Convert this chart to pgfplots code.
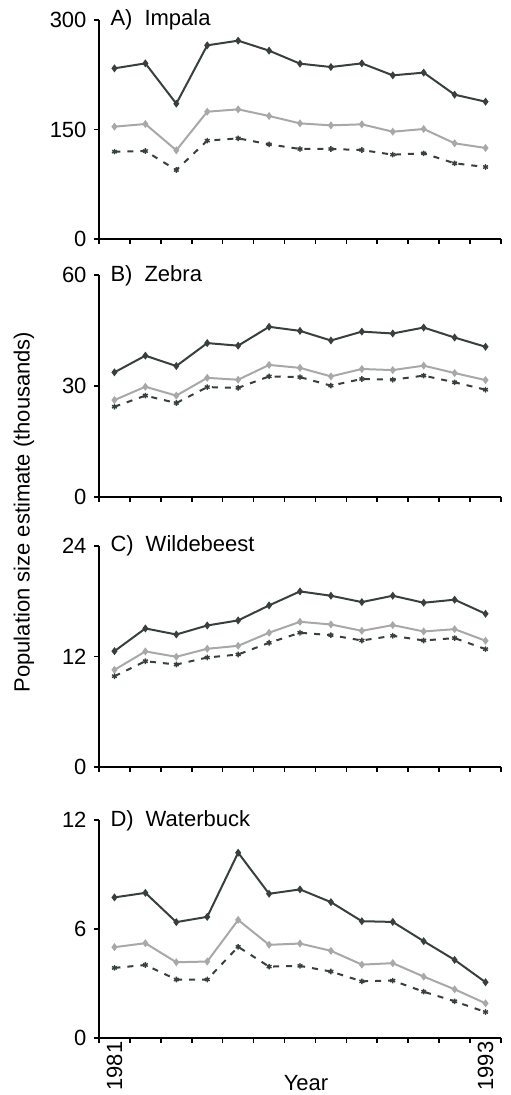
\documentclass[border=0pt]{standalone}
\usepackage{fontspec}
\setmainfont{Liberation Sans}
\usepackage{pgfplots}
\pgfplotsset{compat=1.18}
\definecolor{dk}{RGB}{55,64,60}
\definecolor{lt}{RGB}{168,168,168}
\newcommand{\bigf}{\fontsize{22}{26}\selectfont}
\pgfplotsset{
 panel/.style={
  scale only axis, width=402pt, height=219pt, anchor=south west,
  axis lines=left, axis line style={line width=1.8pt,-},
  xmin=1980.5, xmax=1993.5, ymin=0,
  xtick={1980.5,1981.5,...,1993.5}, xticklabels={},
  tick align=outside, major tick length=5pt,
  every tick/.style={line width=1.6pt, black},
  tick label style={font=\bigf},
  yticklabel style={xshift=-4pt},
  /pgf/number format/assume math mode=true,
  clip=false,
 },
 dkline/.style={dk, line width=2pt, mark=diamond*, mark size=2.4pt},
 ltline/.style={lt, line width=2pt, mark=diamond*, mark size=2.4pt},
 dsline/.style={dk, line width=2pt, dash pattern=on 6pt off 7pt, mark=asterisk, mark size=2.8pt, mark options={solid, line width=1.4pt}},
}
\begin{document}
\begin{tikzpicture}[x=1pt,y=1pt]
\path[use as bounding box] (0,0) rectangle (511,-1095);
% A) Impala
\begin{axis}[panel, at={(99pt,-239pt)}, ymax=300, ytick={0,150,300}]
\addplot[dkline] coordinates {(1981,233.8)(1982,240.6)(1983,185.4)(1984,265.3)(1985,271.7)(1986,258.0)(1987,240.2)(1988,235.6)(1989,240.6)(1990,224.2)(1991,227.9)(1992,197.7)(1993,188.1)};
\addplot[ltline] coordinates {(1981,153.9)(1982,157.5)(1983,121.5)(1984,174.4)(1985,177.6)(1986,168.5)(1987,158.4)(1988,155.7)(1989,157.1)(1990,147.0)(1991,150.7)(1992,131.1)(1993,124.7)};
\addplot[dsline] coordinates {(1981,119.6)(1982,120.5)(1983,94.5)(1984,134.7)(1985,137.9)(1986,129.7)(1987,123.3)(1988,123.3)(1989,121.9)(1990,115.5)(1991,117.4)(1992,103.7)(1993,98.6)};
\node[anchor=base west, xshift=8pt, yshift=-5pt, font=\bigf] at (rel axis cs:0,1) {A)\hspace{12pt}Impala};
\end{axis}
% B) Zebra
\begin{axis}[panel, at={(99pt,-497pt)}, height=222pt, ymax=60, ytick={0,30,60}]
\addplot[dkline] coordinates {(1981,33.7)(1982,38.2)(1983,35.4)(1984,41.6)(1985,40.9)(1986,46.0)(1987,44.9)(1988,42.3)(1989,44.7)(1990,44.2)(1991,45.8)(1992,43.1)(1993,40.6)};
\addplot[ltline] coordinates {(1981,26.2)(1982,29.8)(1983,27.4)(1984,32.2)(1985,31.7)(1986,35.7)(1987,34.9)(1988,32.6)(1989,34.6)(1990,34.3)(1991,35.5)(1992,33.5)(1993,31.6)};
\addplot[dsline] coordinates {(1981,24.4)(1982,27.4)(1983,25.4)(1984,29.7)(1985,29.5)(1986,32.6)(1987,32.4)(1988,30.1)(1989,31.9)(1990,31.7)(1991,32.8)(1992,31.0)(1993,29.0)};
\node[anchor=base west, xshift=8pt, yshift=-6pt, font=\bigf] at (rel axis cs:0,1) {B)\hspace{12pt}Zebra};
\end{axis}
% C) Wildebeest
\begin{axis}[panel, at={(99pt,-767pt)}, height=221pt, ymax=24, ytick={0,12,24}]
\addplot[dkline] coordinates {(1981,12.58)(1982,15.05)(1983,14.39)(1984,15.37)(1985,15.92)(1986,17.55)(1987,19.07)(1988,18.60)(1989,17.91)(1990,18.60)(1991,17.84)(1992,18.17)(1993,16.64)};
\addplot[ltline] coordinates {(1981,10.55)(1982,12.55)(1983,11.97)(1984,12.84)(1985,13.16)(1986,14.58)(1987,15.77)(1988,15.48)(1989,14.79)(1990,15.41)(1991,14.72)(1992,14.97)(1993,13.71)};
\addplot[dsline] coordinates {(1981,9.86)(1982,11.49)(1983,11.13)(1984,11.89)(1985,12.22)(1986,13.49)(1987,14.58)(1988,14.32)(1989,13.74)(1990,14.25)(1991,13.74)(1992,14.00)(1993,12.80)};
\node[anchor=base west, xshift=8pt, yshift=-5pt, font=\bigf] at (rel axis cs:0,1) {C)\hspace{12pt}Wildebeest};
\end{axis}
% D) Waterbuck
\begin{axis}[panel, at={(99pt,-1038pt)}, height=218pt, ymax=12, ytick={0,6,12},
  extra x ticks={1981,1993}, extra x tick labels={1981,1993},
  extra x tick style={major tick length=0pt, tick label style={rotate=90, anchor=east, font=\bigf}}]
\addplot[dkline] coordinates {(1981,7.74)(1982,7.99)(1983,6.38)(1984,6.67)(1985,10.20)(1986,7.94)(1987,8.18)(1988,7.48)(1989,6.43)(1990,6.39)(1991,5.33)(1992,4.30)(1993,3.07)};
\addplot[ltline] coordinates {(1981,5.00)(1982,5.22)(1983,4.17)(1984,4.21)(1985,6.50)(1986,5.13)(1987,5.20)(1988,4.80)(1989,4.04)(1990,4.12)(1991,3.38)(1992,2.68)(1993,1.91)};
\addplot[dsline] coordinates {(1981,3.86)(1982,4.02)(1983,3.22)(1984,3.22)(1985,5.02)(1986,3.93)(1987,3.97)(1988,3.66)(1989,3.12)(1990,3.16)(1991,2.55)(1992,2.02)(1993,1.43)};
\node[anchor=base west, xshift=8pt, yshift=-6pt, font=\bigf] at (rel axis cs:0,1) {D)\hspace{12pt}Waterbuck};
\end{axis}
\node[rotate=90, font=\bigf] at (24,-512) {Population size estimate (thousands)};
\node[anchor=base, font=\bigf, inner sep=1pt] at (306,-1090) {Year};
\end{tikzpicture}
\end{document}
